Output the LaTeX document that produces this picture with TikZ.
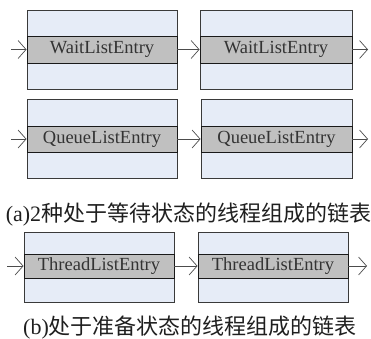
\documentclass[tikz,border=0pt]{standalone}
\usepackage{fontspec}
\setmainfont{Liberation Serif}
\newfontfamily\cjk{Noto Sans CJK SC}
\usetikzlibrary{arrows.meta}
\definecolor{boxblue}{HTML}{E6ECF7}
\definecolor{bandgray}{HTML}{C0C0C0}
\definecolor{edgegray}{HTML}{3A3A3A}

\begin{document}
\begin{tikzpicture}[x=1pt,y=-1pt,
  frame/.style={draw=edgegray, fill=boxblue, line width=0.9pt, inner sep=0pt},
  band/.style={draw=black!90, fill=bandgray, line width=0.9pt, inner sep=0pt,
    font=\fontsize{18.5}{20}\selectfont, text=black!80},
  link/.style={draw=black!70, line width=0.7pt, -{Straight Barb[length=8pt,width=18pt]}},
  caption/.style={anchor=base, font=\fontsize{22}{24}\selectfont, text=black!88}]
  \useasboundingbox (0,0) rectangle (371,338);

  % row 1: WaitListEntry chain
  \node[frame, minimum width=150pt, minimum height=79pt] (f1) at (102,49.5) {};
  \node[band, minimum width=150pt, minimum height=27pt] (w1) at (102,49.5) {WaitListEntry};
  \node[frame, minimum width=152pt, minimum height=79pt] (f2) at (276,49.5) {};
  \node[band, minimum width=152pt, minimum height=27pt] (w2) at (276,49.5) {WaitListEntry};

  % row 2: QueueListEntry chain
  \node[frame, minimum width=150pt, minimum height=79pt] (f3) at (102,138.5) {};
  \node[band, minimum width=150pt, minimum height=26pt] (q1) at (102,139) {QueueListEntry};
  \node[frame, minimum width=151pt, minimum height=79pt] (f4) at (276.5,138.5) {};
  \node[band, minimum width=151pt, minimum height=26pt] (q2) at (276.5,139) {QueueListEntry};

  % row 3: ThreadListEntry chain
  \node[frame, minimum width=150pt, minimum height=70pt] (f5) at (99,267) {};
  \node[band, minimum width=150pt, minimum height=24pt] (t1) at (99,266) {ThreadListEntry};
  \node[frame, minimum width=150pt, minimum height=70pt] (f6) at (273,267) {};
  \node[band, minimum width=150pt, minimum height=24pt] (t2) at (273,266) {ThreadListEntry};

  % free ends of the chains
  \coordinate (win) at (11,49.5);
  \coordinate (wout) at (368,49.5);
  \coordinate (qin) at (11,139);
  \coordinate (qout) at (368,139);
  \coordinate (tin) at (7,266);
  \coordinate (tout) at (367,266);

  \draw[link] (win) -- (w1.west);
  \draw[link] (w1.east) -- (w2.west);
  \draw[link] (w2.east) -- (wout);
  \draw[link] (qin) -- (q1.west);
  \draw[link] (q1.east) -- (q2.west);
  \draw[link] (q2.east) -- (qout);
  \draw[link] (tin) -- (t1.west);
  \draw[link] (t1.east) -- (t2.west);
  \draw[link] (t2.east) -- (tout);

  % captions
  \node[caption] (capa) at (188.5,221) {(a)2{\cjk 种处于等待状态的线程组成的链表}};
  \node[caption] (capb) at (190,334) {(b){\cjk 处于准备状态的线程组成的链表}};
\end{tikzpicture}
\end{document}
